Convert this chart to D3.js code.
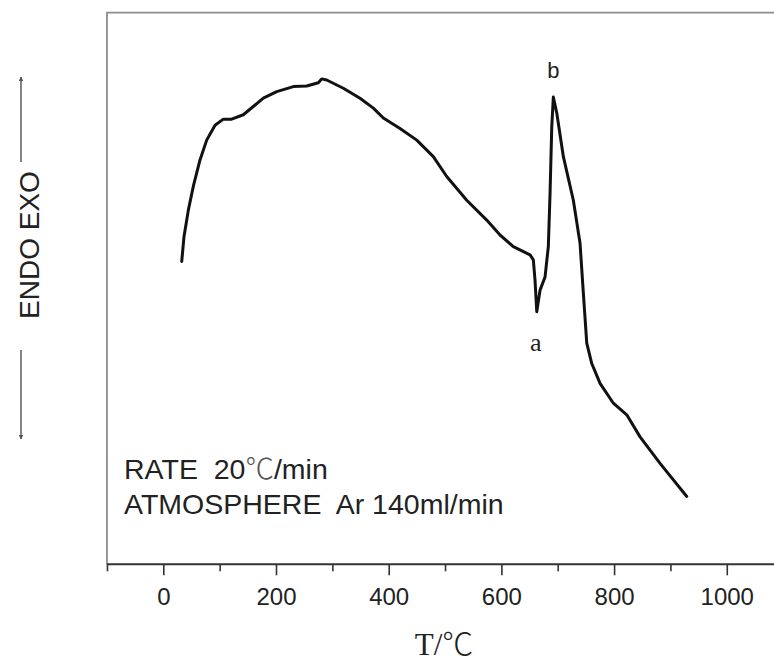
<!DOCTYPE html>
<html>
<head>
<meta charset="utf-8">
<script src="https://cdn.jsdelivr.net/npm/d3@7/dist/d3.min.js"></script>
<style>
  html, body { margin: 0; padding: 0; background: #fff; }
  svg { display: block; }
</style>
</head>
<body>
<svg id="chart" width="774" height="664"></svg>
<script>
// DTA trace: temperature (°C) vs. relative heat-flow signal (arbitrary units, EXO up)
const temperature = [
  32.7, 36.7, 44.4, 53.2, 65.1, 77.0, 91.8, 106.5, 121.4, 142.0,
  159.7, 177.5, 201.3, 230.7, 254.5, 275.1, 281.1, 290.0, 319.5, 349.1,
  372.7, 390.5, 420.1, 449.8, 479.2, 503.0, 538.5, 574.0, 597.6, 621.2,
  650.9, 656.7, 659.7, 662.8, 668.6, 677.5, 683.3, 686.4, 689.4, 692.2,
  698.3, 710.0, 727.7, 739.6, 745.5, 747.5, 751.5, 760.4, 775.1, 798.7,
  822.5, 846.1, 881.6, 929.0
];
const signal = [
  54.9, 59.4, 64.2, 68.5, 73.3, 76.9, 79.6, 80.7, 80.7, 81.5,
  83.0, 84.5, 85.7, 86.6, 86.7, 87.3, 88.0, 87.8, 86.3, 84.5,
  82.7, 80.9, 79.0, 76.9, 73.9, 70.3, 66.0, 62.4, 59.7, 57.6,
  56.1, 55.2, 51.5, 45.8, 49.7, 52.1, 57.6, 67.3, 79.3, 84.7,
  81.8, 73.9, 66.0, 58.2, 49.1, 46.1, 40.1, 36.4, 32.8, 29.2,
  27.1, 23.1, 18.3, 12.3
];

const majorTicks = [0, 200, 400, 600, 800, 1000];
const minorTicks = [-100, 100, 300, 500, 700, 900];

// Thermal events marked on the trace
const eventLabels = ["a", "b"];
const eventTemps = [662.8, 692.2];
const eventSignals = [45.8, 84.7];

const notes = [
  ["RATE  20", "℃", "/min"],
  ["ATMOSPHERE  Ar 140ml/min"]
];

const svg = d3.select("#chart");
const W = 774, H = 664;

const x = d3.scaleLinear().domain([-100, 1084]).range([106.96, 774.1]);
const y = d3.scaleLinear().domain([0, 100]).range([564.3, 12.7]);

const sans = "'Liberation Sans', Arial, sans-serif";
const serif = "'Liberation Serif', 'Times New Roman', serif";
const cjk = "'Noto Sans CJK SC', sans-serif";

// frame (left and top)
svg.append("path")
  .attr("d", `M${x(-100)},${y(0)} V${y(100)} H${W}`)
  .attr("fill", "none")
  .attr("stroke", "#8c8c8c")
  .attr("stroke-width", 1.8);

// bottom axis with major and minor ticks
const axisG = svg.append("g").attr("transform", `translate(0,${y(0)})`);
axisG.append("line")
  .attr("x1", x(-100)).attr("x2", W)
  .attr("stroke", "#333").attr("stroke-width", 2);

const majorAxis = d3.axisBottom(x).tickValues(majorTicks).tickSize(11)
  .tickSizeOuter(0).tickPadding(4).tickFormat(d3.format("d"));
const gMajor = axisG.append("g").call(majorAxis);
gMajor.select(".domain").remove();
gMajor.selectAll(".tick line").attr("stroke", "#333").attr("stroke-width", 1.6);
gMajor.selectAll(".tick text")
  .attr("y", 41).attr("dy", 0)
  .attr("fill", "#222")
  .style("font-family", sans).style("font-size", "24px");

const minorAxis = d3.axisBottom(x).tickValues(minorTicks).tickSize(7).tickSizeOuter(0).tickFormat("");
const gMinor = axisG.append("g").call(minorAxis);
gMinor.select(".domain").remove();
gMinor.selectAll(".tick line").attr("stroke", "#333").attr("stroke-width", 1.6);

// axis title
svg.append("text")
  .attr("x", 444).attr("y", 655)
  .attr("text-anchor", "middle")
  .attr("fill", "#222")
  .style("font-family", serif).style("font-size", "31px")
  .text("T/")
  .append("tspan").style("font-family", cjk).style("font-weight", 300).text("℃");

// vertical ENDO / EXO label with arrows
svg.append("text")
  .attr("transform", "translate(39,245) rotate(-90)")
  .attr("text-anchor", "middle")
  .attr("fill", "#222")
  .style("font-family", sans).style("font-size", "28px")
  .text("ENDO EXO");

const defs = svg.append("defs");
defs.append("marker")
  .attr("id", "arrowhead")
  .attr("viewBox", "0 0 10 10").attr("refX", 9).attr("refY", 5)
  .attr("markerWidth", 3).attr("markerHeight", 3)
  .attr("orient", "auto")
  .append("path").attr("d", "M0,0 L10,5 L0,10 z").attr("fill", "#555");

svg.append("line")
  .attr("x1", 21).attr("y1", 162).attr("x2", 21).attr("y2", 77)
  .attr("stroke", "#666").attr("stroke-width", 1.6)
  .attr("marker-end", "url(#arrowhead)");
svg.append("line")
  .attr("x1", 21).attr("y1", 350).attr("x2", 21).attr("y2", 439)
  .attr("stroke", "#666").attr("stroke-width", 1.6)
  .attr("marker-end", "url(#arrowhead)");

// the trace
const line = d3.line()
  .x((d, i) => x(temperature[i]))
  .y((d, i) => y(signal[i]))
  .curve(d3.curveLinear);

svg.append("path")
  .datum(signal)
  .attr("d", line)
  .attr("fill", "none")
  .attr("stroke", "#111")
  .attr("stroke-width", 3)
  .attr("stroke-linejoin", "round")
  .attr("stroke-linecap", "round");

// event labels
svg.append("text")
  .attr("x", x(eventTemps[0]) - 1).attr("y", y(eventSignals[0]) + 39)
  .attr("text-anchor", "middle").attr("fill", "#222")
  .style("font-family", serif).style("font-size", "26px")
  .text(eventLabels[0]);
svg.append("text")
  .attr("x", x(eventTemps[1])).attr("y", y(eventSignals[1]) - 19)
  .attr("text-anchor", "middle").attr("fill", "#222")
  .style("font-family", sans).style("font-size", "22px")
  .text(eventLabels[1]);

// experimental conditions
const noteG = svg.append("g")
  .attr("fill", "#222")
  .style("font-family", sans).style("font-size", "28.5px")
  .style("white-space", "pre");
notes.forEach((parts, i) => {
  const t = noteG.append("text").attr("x", 124).attr("y", 479 + i * 35)
    .attr("xml:space", "preserve");
  parts.forEach(p => {
    const ts = t.append("tspan").text(p);
    if (p === "℃") ts.style("font-family", cjk).style("font-weight", 300).attr("fill", "#555");
  });
});
</script>
</body>
</html>
